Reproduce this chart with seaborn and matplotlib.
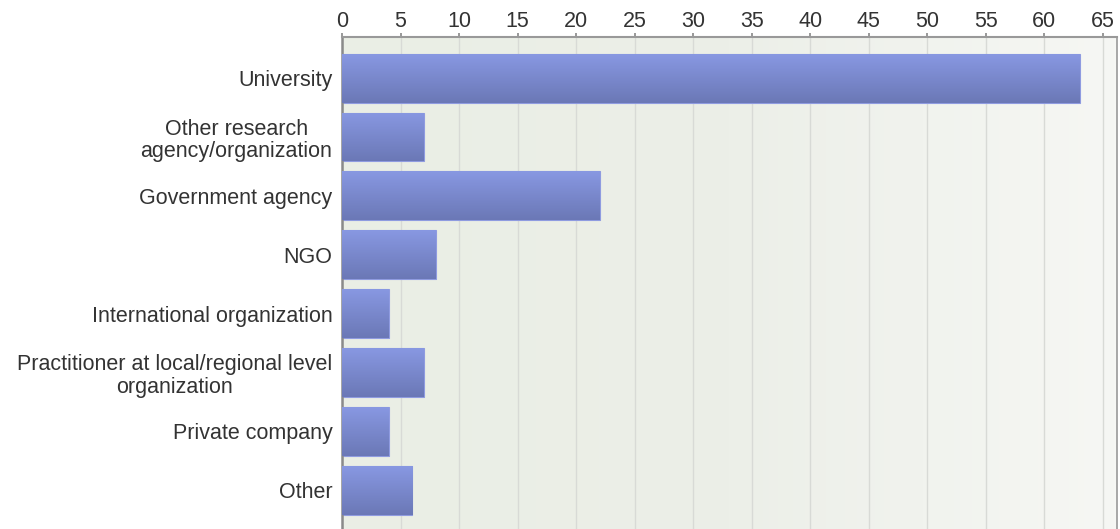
import numpy as np
import pandas as pd
import matplotlib
matplotlib.use('Agg')
import matplotlib.pyplot as plt
from matplotlib.colors import LinearSegmentedColormap
import seaborn as sns

# data
categories = ['University', 'Other research\nagency/organization', 'Government agency', 'NGO',
              'International organization', 'Practitioner at local/regional level\norganization',
              'Private company', 'Other']
counts = [63, 7, 22, 8, 4, 7, 4, 6]
x_ticks = list(range(0, 70, 5))

df = pd.DataFrame({'category': categories, 'count': counts})

sns.set_style('white')
plt.rcParams['font.family'] = ['Liberation Sans', 'DejaVu Sans']

fig = plt.figure(figsize=(11.2, 5.29), dpi=100)
ax = fig.add_axes([0.3054, 0.0, 0.9973 - 0.3054, 0.930])

# light gradient background
bg = LinearSegmentedColormap.from_list('bg', ['#eaeee5', '#ecefe8', '#f6f7f4'])
ax.imshow(np.linspace(0, 1, 256).reshape(1, -1), cmap=bg, aspect='auto',
          extent=[0, 66.2, 7.66, -0.7], zorder=0)

sns.barplot(data=df, x='count', y='category', orient='h', color='#7d8bd4',
            width=0.83, ax=ax, zorder=2, edgecolor='#8f9be0', linewidth=0.8)

# vertical gradient inside each bar
bar_cmap = LinearSegmentedColormap.from_list('bar', ['#8898e2', '#6b78b6'])
for p in ax.patches:
    x0, y0 = p.get_x(), p.get_y()
    w, h = p.get_width(), p.get_height()
    im = ax.imshow(np.linspace(0, 1, 128).reshape(-1, 1), cmap=bar_cmap, aspect='auto',
                   extent=[x0, x0 + w, y0 + h, y0], zorder=3)
    im.set_clip_path(p)

ax.set_xlim(0, 66.2)
ax.set_ylim(7.66, -0.7)
ax.set_xticks(x_ticks)
ax.xaxis.tick_top()
ax.tick_params(axis='x', length=3, width=1.2, color='#888888', labelsize=15.5,
               labelcolor='#333333', pad=0.5)
ax.tick_params(axis='y', length=0, labelsize=15.5, labelcolor='#333333', pad=7)
for lbl in ax.get_yticklabels():
    lbl.set_multialignment('center')
    lbl.set_linespacing(1.12)
ax.grid(axis='x', color='#d8dad6', linewidth=1, zorder=1)
ax.set_axisbelow(True)
ax.set_xlabel('')
ax.set_ylabel('')

for side in ['top', 'left', 'right']:
    ax.spines[side].set_visible(True)
    ax.spines[side].set_color('#999999')
ax.spines['top'].set_linewidth(1.5)
ax.spines['left'].set_linewidth(1.8)
ax.spines['left'].set_color('#8a8a8a')
ax.spines['right'].set_linewidth(1.2)
ax.spines['bottom'].set_visible(False)

fig.savefig('out.png', dpi=100)
